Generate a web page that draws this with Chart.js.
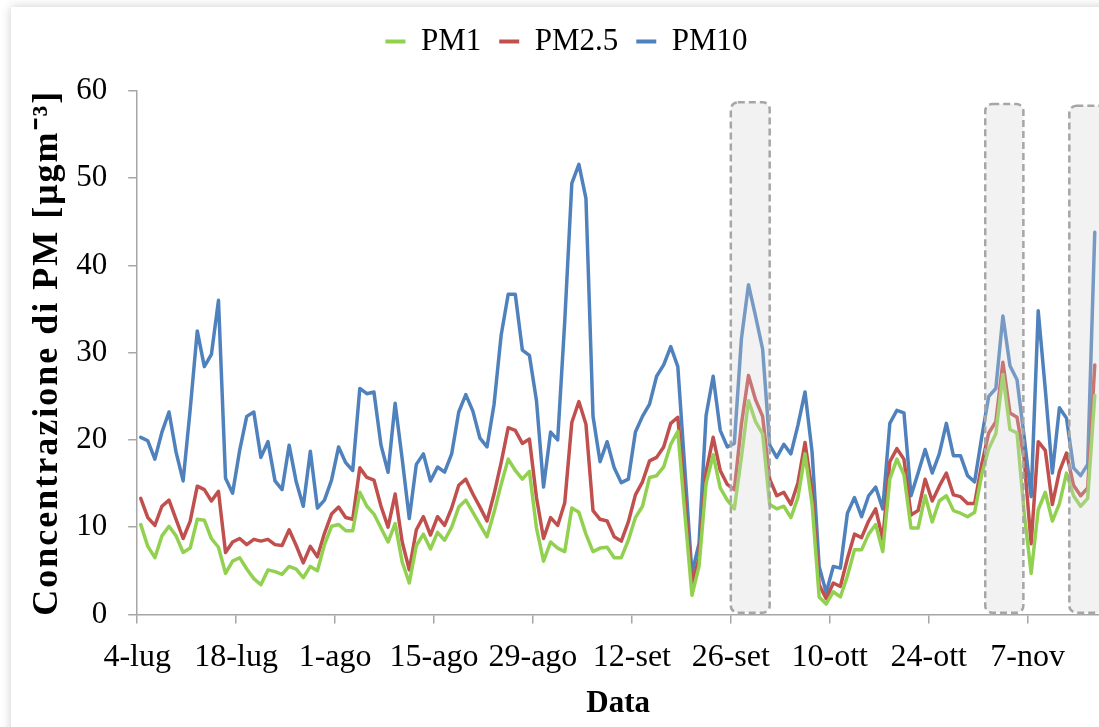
<!DOCTYPE html>
<html><head><meta charset="utf-8">
<script src="https://cdn.jsdelivr.net/npm/chart.js@4"></script>
<style>
html,body{margin:0;padding:0;background:#fff;overflow:hidden;width:1099px;height:727px;}
#frame{position:absolute;left:11px;top:7px;width:1200px;height:800px;background:#fff;box-shadow:0 0 10px rgba(0,0,0,0.2);}
#wrap{position:absolute;left:0;top:0;width:1099px;height:727px;}
</style></head><body>
<div id="frame"></div>
<div id="wrap"><canvas id="c" width="1099" height="727"></canvas></div>
<script>
// Tick labels (every 14 days starting 4 July)
const tickLabels = ["4-lug","18-lug","1-ago","15-ago","29-ago","12-set","26-set","10-ott","24-ott","7-nov"];
const seriesNames = ["PM1","PM2.5","PM10"];

// Daily values, index 0 = 4-lug
const pm1 = [10.3,7.8,6.5,9.0,10.1,9.0,7.1,7.6,10.9,10.8,8.7,7.7,4.7,6.1,6.5,5.2,4.1,3.4,5.1,4.9,
4.6,5.5,5.2,4.2,5.5,5.0,8.0,10.1,10.3,9.6,9.6,14.0,12.4,11.5,9.9,8.3,10.4,6.0,3.6,7.9,
9.2,7.5,9.4,8.5,10.0,12.3,13.1,11.7,10.3,8.9,11.7,14.9,17.8,16.5,15.5,16.4,9.9,6.1,8.3,7.6,
7.2,12.2,11.7,9.2,7.2,7.6,7.7,6.5,6.5,8.5,11.1,12.4,15.7,15.9,16.9,19.5,21.0,11.5,2.2,5.5,
15.0,18.3,14.5,13.1,12.1,18.0,24.5,22.1,20.7,12.6,12.1,12.4,11.1,13.4,18.4,12.6,2.0,1.2,2.6,2.0,
4.4,7.4,7.4,9.2,10.3,7.2,15.5,17.8,16.0,9.9,9.9,13.6,10.6,13.0,13.6,11.9,11.6,11.2,11.7,16.0,
19.0,20.7,27.5,21.2,20.8,11.7,4.7,12.0,14.0,10.7,12.7,16.2,13.6,12.4,13.3,25.1];

const pm25 = [13.3,11.1,10.2,12.4,13.1,10.9,8.7,10.7,14.7,14.3,13.0,14.1,7.1,8.3,8.7,8.0,8.6,8.4,8.6,8.0,
7.9,9.7,7.9,5.9,7.8,6.6,9.3,11.5,12.3,11.1,10.9,16.8,15.7,15.4,12.4,10.0,13.8,8.3,5.1,9.7,
11.2,9.1,11.2,10.2,12.2,14.8,15.5,13.8,12.3,10.7,13.8,17.4,21.4,21.1,19.6,20.1,13.4,8.7,11.1,10.2,
12.8,22.0,24.4,21.8,11.9,10.9,10.7,8.9,8.4,10.6,13.7,15.2,17.6,18.0,19.2,21.9,22.6,13.4,3.4,6.4,
16.3,20.3,16.5,14.9,14.3,21.8,27.4,24.6,22.7,15.5,13.6,14.0,12.6,15.1,19.7,14.1,3.4,1.8,3.6,3.2,
6.4,9.2,8.8,10.7,12.1,8.6,17.5,19.0,17.8,11.4,11.9,15.5,13.0,14.7,16.2,13.7,13.5,12.7,12.7,17.2,
20.8,22.1,28.9,23.1,22.6,17.8,8.1,19.8,18.8,12.6,16.4,18.5,14.8,13.6,14.5,28.6];

const pm10 = [20.3,19.9,17.8,20.9,23.2,18.6,15.3,23.5,32.5,28.4,29.8,36.0,15.6,13.9,18.8,22.7,23.2,18.0,19.8,15.3,
14.3,19.4,15.2,12.4,18.7,12.2,13.1,15.4,19.2,17.4,16.5,25.9,25.3,25.5,19.4,16.3,24.2,17.8,11.0,17.2,
18.4,15.3,16.9,16.3,18.4,23.2,25.2,23.3,20.2,19.2,24.1,32.0,36.7,36.7,30.3,29.7,24.5,14.6,20.9,20.0,
33.6,49.4,51.6,47.7,22.7,17.5,19.8,16.8,15.1,15.5,20.9,22.7,24.1,27.3,28.6,30.7,28.4,16.6,4.7,8.1,
22.8,27.3,21.1,19.2,19.6,31.6,37.8,34.2,30.4,19.4,18.0,19.5,18.4,21.7,25.5,18.6,5.5,2.5,5.5,5.3,
11.6,13.4,11.2,13.6,14.6,12.1,21.9,23.4,23.1,13.6,16.2,18.9,16.2,18.4,21.9,18.2,18.2,15.9,15.2,20.3,
25.0,25.9,34.2,28.5,26.9,20.4,13.5,34.8,25.8,16.2,23.7,22.5,16.8,15.9,17.2,43.8];

// Highlighted periods (day index range)
const highlightStart = [83.5, 119.5, 131.4];
const highlightEnd = [89.0, 124.9, 145];

const toPoints = arr => arr.map((v, i) => ({x: i, y: v}));
const FONT = "'Liberation Serif', 'Times New Roman', serif";

const highlightPlugin = {
  id: 'highlight',
  afterDatasetsDraw(chart) {
    const {ctx, scales: {x, y}} = chart;
    ctx.save();
    for (let k = 0; k < highlightStart.length; k++) {
      const x1 = x.getPixelForValue(highlightStart[k]);
      const x2 = x.getPixelForValue(highlightEnd[k]);
      const y1 = y.getPixelForValue(58.7 - 0.2 * k);
      const y2 = y.getPixelForValue(0.2);
      ctx.beginPath();
      ctx.roundRect(x1, y1, x2 - x1, y2 - y1, 7);
      ctx.fillStyle = 'rgba(212,212,212,0.3)';
      ctx.fill();
      ctx.setLineDash([7, 4]);
      ctx.lineWidth = 2.5;
      ctx.strokeStyle = '#a6a6a6';
      ctx.stroke();
    }
    ctx.restore();
  }
};

const legendTweak = {
  id: 'legendTweak',
  beforeUpdate(chart) {
    const lg = chart.legend;
    if (lg && !lg._patched) {
      const fit = lg.fit;
      lg.fit = function () { fit.call(this); this.height += 24; };
      lg._patched = true;
    }
  },
  afterLayout(chart) {
    const lg = chart.legend;
    if (lg) { lg.left += 9; lg.right += 9; }
  },
  beforeDraw(chart) {
    const s = chart.scales.y;
    if (s && !s._wrapped) {
      const orig = s.drawTitle;
      s.drawTitle = function (...a) {
        const ctx = this.ctx;
        ctx.save();
        ctx.letterSpacing = '2px';
        orig.apply(this, a);
        ctx.restore();
      };
      s._wrapped = true;
    }
  }
};

new Chart(document.getElementById('c'), {
  type: 'line',
  data: {
    datasets: [
      {label: seriesNames[0], data: toPoints(pm1), borderColor: '#92D050', backgroundColor: '#92D050'},
      {label: seriesNames[1], data: toPoints(pm25), borderColor: '#C0504D', backgroundColor: '#C0504D'},
      {label: seriesNames[2], data: toPoints(pm10), borderColor: '#4F81BD', backgroundColor: '#4F81BD'}
    ]
  },
  options: {
    responsive: false,
    animation: false,
    devicePixelRatio: 1,
    elements: {
      line: {borderWidth: 3.5, tension: 0, borderJoinStyle: 'round', borderCapStyle: 'round'},
      point: {radius: 0, hoverRadius: 0}
    },
    layout: {padding: {left: 16, right: 0, top: 8, bottom: 4}},
    plugins: {
      tooltip: {enabled: false},
      legend: {
        position: 'top',
        labels: {
          font: {family: FONT, size: 31},
          color: '#000',
          boxWidth: 20,
          boxHeight: 4,
          padding: 18,
          generateLabels(chart) {
            return Chart.defaults.plugins.legend.labels.generateLabels(chart).map(l => {
              l.lineWidth = 0; l.fillStyle = l.strokeStyle; return l;
            });
          }
        }
      }
    },
    scales: {
      x: {
        type: 'linear',
        min: -0.5,
        max: 135.6,
        afterBuildTicks(scale) {
          scale.ticks = tickLabels.map((t, k) => ({value: -0.5 + 14 * k}));
        },
        ticks: {
          autoSkip: false, maxRotation: 0, padding: 15,
          font: {family: FONT, size: 32}, color: '#000',
          callback: (v, i) => tickLabels[i]
        },
        grid: {display: true, drawOnChartArea: false, drawTicks: true, tickLength: 9, color: '#a6a6a6', lineWidth: 1.5},
        border: {display: true, color: '#a6a6a6', width: 1.5},
        title: {display: true, text: 'Data', font: {family: FONT, size: 31, weight: 'bold'}, color: '#000', padding: {top: -6, bottom: 0}}
      },
      y: {
        min: 0, max: 60,
        ticks: {stepSize: 10, padding: 21, font: {family: FONT, size: 31}, color: '#000'},
        grid: {display: true, drawOnChartArea: false, drawTicks: true, tickLength: 9, color: '#a6a6a6', lineWidth: 1.5},
        border: {display: true, color: '#a6a6a6', width: 1.5},
        title: {display: true, text: 'Concentrazione di PM [μgm⁻³]', font: {family: FONT, size: 36, weight: 'bold'}, color: '#000', padding: {top: 10, bottom: -14}}
      }
    }
  },
  plugins: [highlightPlugin, legendTweak]
});
</script>
</body></html>
